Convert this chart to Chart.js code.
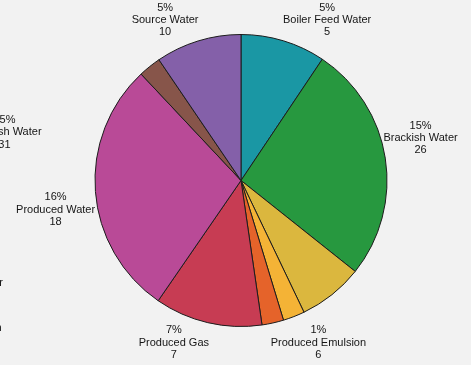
<!DOCTYPE html>
<html lang="en">
<head>
    <meta charset="UTF-8">
    <title>Water types</title>
    <script src="https://cdn.jsdelivr.net/npm/chart.js"></script>
    <style>
        body { margin: 0; background: #f2f2f2; }
    </style>
</head>
<body>
    <canvas id="pieChart" width="471" height="365"></canvas>

    <script>
        // slice values (share of the pie, clockwise from 12 o'clock)
        const sliceValues = [9.4, 26.3, 7.2, 2.4, 2.4, 11.9, 28.4, 2.5, 9.5];
        const sliceColors = ['#1a97a4', '#27983f', '#dbb73e', '#f4b336', '#e5632a', '#c73c53', '#b94a97', '#87554a', '#8460a9'];

        // outside labels
        const labelPercents = ['5%', '15%', '1%', '7%', '16%', '15%', '', '', '5%'];
        const labelNames = ['Boiler Feed Water', 'Brackish Water', 'Produced Emulsion', 'Produced Gas', 'Produced Water', 'Brackish Water', 'Injection Water', 'Production', 'Source Water'];
        const labelValues = ['5', '26', '6', '7', '18', '31', '', '', '10'];
        // label placement, offset from pie centre in radius units
        const labelOffsets = [
            [0.59, -1.10], [1.23, -0.29], [0.53, 1.11], [-0.46, 1.11],
            [-1.27, 0.20], [-1.62, -0.33], [-1.88, 0.70], [-1.82, 1.01], [-0.52, -1.10]
        ];

        const outsideLabels = {
            id: 'outsideLabels',
            afterDraw(chart) {
                const arc = chart.getDatasetMeta(0).data[0];
                const ctx = chart.ctx;
                const r = arc.outerRadius;
                ctx.save();
                ctx.font = '11px "Liberation Sans", Arial, sans-serif';
                ctx.fillStyle = '#151515';
                ctx.textAlign = 'center';
                ctx.textBaseline = 'middle';
                labelNames.forEach((name, i) => {
                    const x = arc.x + labelOffsets[i][0] * r;
                    const y = arc.y + labelOffsets[i][1] * r;
                    ctx.fillText(labelPercents[i], x, y - 12.3);
                    ctx.fillText(name, x, y);
                    ctx.fillText(labelValues[i], x, y + 12.3);
                });
                ctx.restore();
            }
        };

        new Chart(document.getElementById('pieChart'), {
            type: 'pie',
            data: {
                labels: labelNames,
                datasets: [{
                    data: sliceValues,
                    backgroundColor: sliceColors,
                    borderColor: '#1c1c1c',
                    borderWidth: 1
                }]
            },
            options: {
                responsive: false,
                animation: false,
                devicePixelRatio: 1,
                layout: { padding: { top: 34, bottom: 38, left: 11, right: 0 } },
                plugins: {
                    legend: { display: false },
                    tooltip: { enabled: false }
                }
            },
            plugins: [outsideLabels]
        });
    </script>
</body>
</html>
